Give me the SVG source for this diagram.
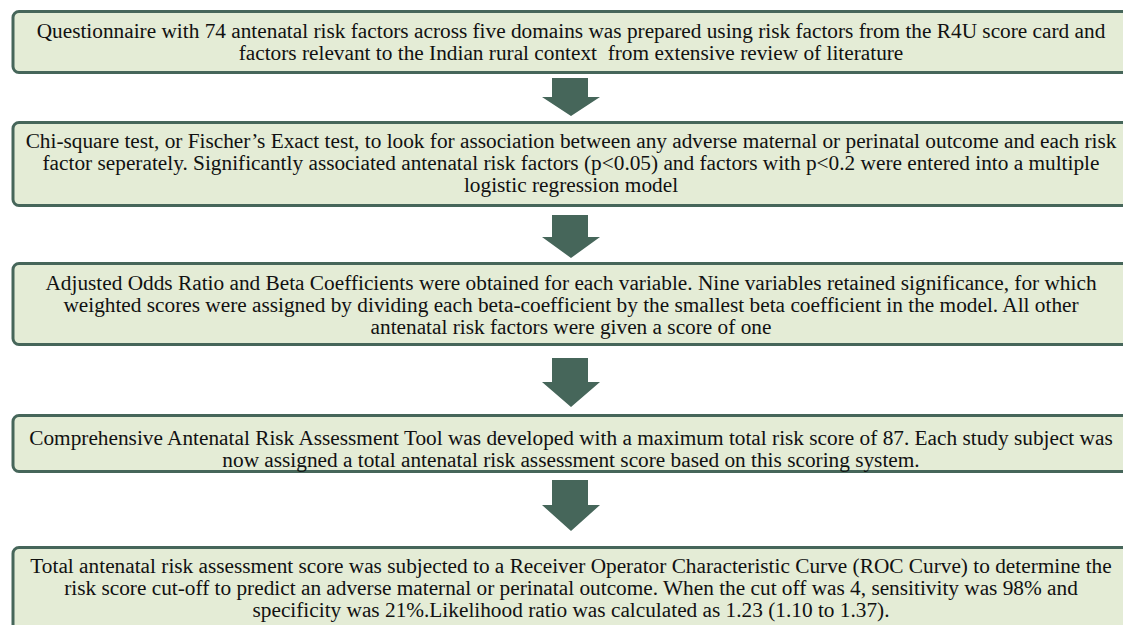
<svg xmlns="http://www.w3.org/2000/svg" width="1123" height="625" viewBox="0 0 1123 625">
<style>
.box{fill:#e4ecd6;stroke:#46665a;stroke-width:3}
.arrow{fill:#46665a}
text{font-family:"Liberation Serif","Times New Roman",serif;font-size:21.3px;fill:#111;text-anchor:middle}
</style>
<rect width="1123" height="625" fill="#fff"/>
<g id="connectors">
<path class="arrow" d="M552,78 H588 V97 H600 L571,116 L542,97 H552 Z"/>
<path class="arrow" d="M552,215 H588 V237 H600 L571,258 L542,237 H552 Z"/>
<path class="arrow" d="M552,358 H588 V382 H600 L571,407 L542,382 H552 Z"/>
<path class="arrow" d="M552,480 H588 V505 H600 L571,531 L542,505 H552 Z"/>
</g>
<g id="node1">
<rect class="box" x="13" y="11.5" width="1125" height="61" rx="6"/>
<text x="571" y="38">Questionnaire with 74 antenatal risk factors across five domains was prepared using risk factors from the R4U score card and</text>
<text x="571" y="60" xml:space="preserve">factors relevant to the Indian rural context  from extensive review of literature</text>
</g>
<g id="node2">
<rect class="box" x="13" y="122.5" width="1125" height="83" rx="6"/>
<text x="571" y="148">Chi-square test, or Fischer’s Exact test, to look for association between any adverse maternal or perinatal outcome and each risk</text>
<text x="571" y="170">factor seperately. Significantly associated antenatal risk factors (p&lt;0.05) and factors with p&lt;0.2 were entered into a multiple</text>
<text x="571" y="192">logistic regression model</text>
</g>
<g id="node3">
<rect class="box" x="13" y="263.5" width="1125" height="81" rx="6"/>
<text x="571" y="290">Adjusted Odds Ratio and Beta Coefficients were obtained for each variable. Nine variables retained significance, for which</text>
<text x="571" y="312">weighted scores were assigned by dividing each beta-coefficient by the smallest beta coefficient in the model. All other</text>
<text x="571" y="334">antenatal risk factors were given a score of one</text>
</g>
<g id="node4">
<rect class="box" x="13" y="415.5" width="1125" height="56" rx="6"/>
<text x="571" y="445">Comprehensive Antenatal Risk Assessment Tool was developed with a maximum total risk score of 87. Each study subject was</text>
<text x="571" y="467">now assigned a total antenatal risk assessment score based on this scoring system.</text>
</g>
<g id="node5">
<rect class="box" x="13" y="547.5" width="1125" height="95" rx="6"/>
<text x="571" y="573">Total antenatal risk assessment score was subjected to a Receiver Operator Characteristic Curve (ROC Curve) to determine the</text>
<text x="571" y="595">risk score cut-off to predict an adverse maternal or perinatal outcome. When the cut off was 4, sensitivity was 98% and</text>
<text x="571" y="617">specificity was 21%.Likelihood ratio was calculated as 1.23 (1.10 to 1.37).</text>
</g>
</svg>
